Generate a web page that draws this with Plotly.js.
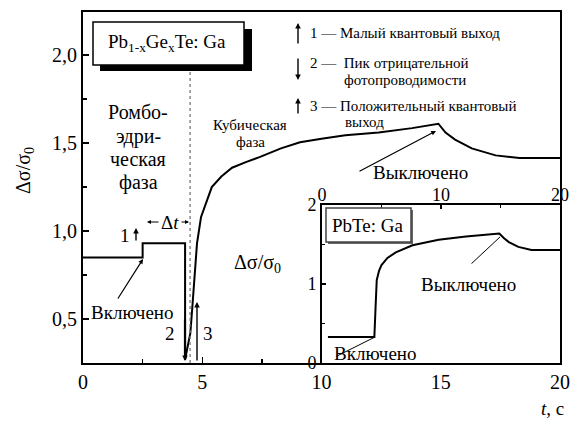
<!DOCTYPE html>
<html>
<head>
<meta charset="utf-8">
<script src="https://cdn.plot.ly/plotly-3.0.1.min.js"></script>
<style>
  html, body { margin: 0; padding: 0; background: #fff; }
  #chart { width: 576px; height: 421px; }
</style>
</head>
<body>
<div id="chart"></div>
<script>
// Photoconductivity kinetics of Pb1-xGexTe:Ga across the phase transition
const tMain = [0, 2.5, 2.5, 4.28, 4.28, 4.5, 4.58, 4.65, 4.78, 4.95, 5.15, 5.4, 5.8, 6.25, 6.8, 7.4, 8.3, 9.1, 10, 11, 12.4, 13.8, 14.9, 15.2, 15.6, 16.3, 17.3, 18.3, 20];
const sigmaMain = [0.85, 0.85, 0.93, 0.93, 0.27, 0.42, 0.56, 0.70, 0.93, 1.08, 1.16, 1.25, 1.31, 1.36, 1.39, 1.42, 1.47, 1.505, 1.525, 1.545, 1.56, 1.585, 1.61, 1.56, 1.52, 1.47, 1.43, 1.415, 1.415];

// Inset: PbTe:Ga reference sample
const tInset = [0.5, 4.4, 4.5, 4.6, 4.8, 5.0, 5.5, 6.2, 7.6, 9.8, 12.1, 14.9, 15.3, 15.7, 16.5, 17.6, 20];
const sigmaInset = [0.33, 0.33, 0.7, 1.05, 1.17, 1.24, 1.33, 1.40, 1.49, 1.56, 1.60, 1.64, 1.58, 1.53, 1.47, 1.43, 1.43];

// Phase transition moment (dotted line)
const tTransition = 4.49;

// Tick labels
const mainXTicks = [0, 5, 10, 15, 20];
const mainXMinor = [2.5, 7.5];
const mainYTicks = [0.5, 1.0, 1.5, 2.0];
const mainYMinor = [0.75, 1.25, 1.75];
const insetXTicks = [0, 10, 20];
const insetXMinor = [5, 15];
const insetYTicks = [0, 1, 2];
const insetYMinor = [0.5, 1.5];

const FONT = 'Liberation Serif';

// plot area in pixels: left 83, right 560, top 12, bottom 363
const L = 83, B = 363, W = 477, H = 351;
const px = p => (p - L) / W;
const py = p => (B - p) / H;

function txt(x, y, text, size, extra) {
  return Object.assign({
    xref: 'paper', yref: 'paper', x: px(x), y: py(y), text: text,
    showarrow: false, xanchor: 'center', yanchor: 'middle',
    font: { family: FONT, size: size, color: '#000' }
  }, extra || {});
}
function arrow(hx, hy, tx, ty, extra) {
  return Object.assign({
    xref: 'paper', yref: 'paper', x: px(hx), y: py(hy),
    ax: tx - hx, ay: ty - hy, text: '', showarrow: true,
    arrowhead: 2, arrowsize: 0.8, arrowwidth: 1.4, arrowcolor: '#000'
  }, extra || {});
}

const annotations = [
  txt(167, 43, 'Pb<sub>1-x</sub>Ge<sub>x</sub>Te: Ga', 19),
  txt(138, 112, 'Ромбо-', 20),
  txt(138, 136, 'эдри-', 20),
  txt(138, 159, 'ческая', 20),
  txt(138, 182, 'фаза', 20),
  txt(250, 125, 'Кубическая', 15),
  txt(250, 142, 'фаза', 15),
  txt(308, 33, '1 — Малый квантовый выход', 15, { xanchor: 'left' }),
  txt(308, 63, '2 —  Пик отрицательной', 15, { xanchor: 'left' }),
  txt(342, 80, 'фотопроводимости', 15, { xanchor: 'left' }),
  txt(308, 106, '3 — Положительный квантовый', 15, { xanchor: 'left' }),
  txt(343, 122, 'выход', 15, { xanchor: 'left' }),
  txt(420, 172, 'Выключено', 19),
  txt(132, 312, 'Включено', 19),
  txt(170, 222, 'Δ<i>t</i>', 19),
  txt(125, 235, '1', 19),
  txt(170, 333, '2', 19),
  txt(208, 333, '3', 19),
  txt(257, 263, 'Δσ/σ<sub>0</sub>', 20),
  txt(368, 225, 'PbTe: Ga', 19),
  txt(468, 284, 'Выключено', 19),
  txt(375, 353, 'Включено', 19),
  txt(25, 171, 'Δσ/σ<sub>0</sub>', 20, { textangle: -90 }),
  txt(552, 408, '<i>t</i>, с', 19),

  arrow(298, 23, 298, 45),
  arrow(298, 80, 298, 57),
  arrow(298, 98, 298, 115),
  arrow(136, 228, 136, 242),
  arrow(147, 222, 160, 222, { arrowwidth: 1 }),
  arrow(189, 222, 180, 222, { arrowwidth: 1 }),
  arrow(436, 131, 358, 172, { arrowwidth: 1.2 }),
  arrow(143, 259, 117, 300, { arrowwidth: 1.2 }),
  arrow(185, 361, 185, 318, { arrowwidth: 2.2, arrowsize: 0.5 }),
  arrow(197, 302, 197, 362, { arrowwidth: 1.4 }),
  arrow(500, 237, 470, 265, { arrowhead: 0, arrowwidth: 1 }),
  arrow(375, 337, 335, 357, { arrowhead: 0, arrowwidth: 1 })
];

const shapes = [
  { type: 'line', xref: 'x', yref: 'paper', x0: tTransition, x1: tTransition,
    y0: 0, y1: py(66), line: { color: '#777', width: 1.3, dash: 'dot' } },
  { type: 'rect', xref: 'paper', yref: 'paper', x0: px(100), x1: px(252), y0: py(71), y1: py(29),
    fillcolor: '#000', line: { width: 0 } },
  { type: 'rect', xref: 'paper', yref: 'paper', x0: px(93), x1: px(244), y0: py(65), y1: py(22),
    fillcolor: '#fff', line: { color: '#000', width: 1.5 } },
  { type: 'rect', xref: 'paper', yref: 'paper', x0: px(328), x1: px(413), y0: py(244), y1: py(210),
    fillcolor: '#666', line: { width: 0 } },
  { type: 'rect', xref: 'paper', yref: 'paper', x0: px(326), x1: px(411), y0: py(242), y1: py(208),
    fillcolor: '#fff', line: { color: '#444', width: 1.5 } }
];

const traces = [
  { x: tMain, y: sigmaMain, xaxis: 'x', yaxis: 'y', type: 'scatter', mode: 'lines',
    line: { color: '#000', width: 2 }, hoverinfo: 'skip' },
  { x: tInset, y: sigmaInset, xaxis: 'x2', yaxis: 'y2', type: 'scatter', mode: 'lines',
    line: { color: '#000', width: 2 }, hoverinfo: 'skip' }
];

const axisCommon = {
  showline: true, linecolor: '#000', linewidth: 2, mirror: true,
  ticks: 'inside', tickcolor: '#000', tickwidth: 1.5,
  showgrid: false, zeroline: false, fixedrange: true
};

const layout = {
  width: 576, height: 421,
  margin: { l: L, r: 576 - L - W, t: 12, b: 421 - B },
  paper_bgcolor: '#fff', plot_bgcolor: '#fff',
  showlegend: false,
  separators: ', ',
  font: { family: FONT, color: '#000' },
  xaxis: Object.assign({}, axisCommon, {
    domain: [0, 1], anchor: 'y', range: [0, 20],
    tickmode: 'array', tickvals: mainXTicks, ticklen: 6,
    tickfont: { family: FONT, size: 20 },
    minor: { tickmode: 'array', tickvals: mainXMinor, ticks: 'inside', ticklen: 4, tickcolor: '#000' }
  }),
  yaxis: Object.assign({}, axisCommon, {
    domain: [0, 1], anchor: 'x', range: [0.25, 2.245],
    tickmode: 'array', tickvals: mainYTicks, tickformat: '.1f', ticklen: 6,
    tickfont: { family: FONT, size: 20 },
    minor: { tickmode: 'array', tickvals: mainYMinor, ticks: 'inside', ticklen: 4, tickcolor: '#000' }
  }),
  xaxis2: Object.assign({}, axisCommon, {
    domain: [px(322), 1], anchor: 'y2', side: 'top', range: [0, 20],
    tickmode: 'array', tickvals: insetXTicks, ticklen: 4, ticklabelstandoff: -5,
    tickfont: { family: FONT, size: 18 },
    minor: { tickmode: 'array', tickvals: insetXMinor, ticks: 'inside', ticklen: 3, tickcolor: '#000' }
  }),
  yaxis2: Object.assign({}, axisCommon, {
    domain: [0, py(205)], anchor: 'x2', range: [0, 2],
    tickmode: 'array', tickvals: insetYTicks, tickformat: 'd', ticklen: 4,
    tickfont: { family: FONT, size: 18 },
    minor: { tickmode: 'array', tickvals: insetYMinor, ticks: 'inside', ticklen: 3, tickcolor: '#000' }
  }),
  annotations: annotations,
  shapes: shapes
};

Plotly.newPlot('chart', traces, layout, { displayModeBar: false, staticPlot: true });
</script>
</body>
</html>
